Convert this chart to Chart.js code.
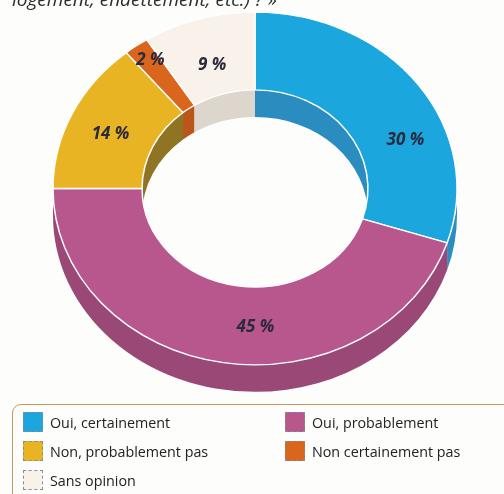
<!doctype html>
<html>
<head>
  <meta charset="utf-8" />
  <title>Donut - sondage</title>
  <script src="https://cdn.jsdelivr.net/npm/chart.js"></script>
  <style>
    body { margin: 0; width: 504px; height: 494px; overflow: hidden; background: #fdfdfc; position: relative;
           font-family: "Open Sans", "Noto Sans", sans-serif; }
    #chartBox { position: absolute; left: 0; top: 0; width: 504px; height: 494px; }
    #title { position: absolute; left: 12px; top: -14px; font-style: italic; font-size: 19px; color: #2d2d2d; white-space: nowrap; }
    #legend { position: absolute; left: 12px; top: 404px; width: 500px; height: 110px; box-sizing: border-box;
              border: 1.5px solid #c8965e; border-radius: 9px; padding: 6px 0 0 10px;
              display: grid; grid-template-columns: 262px auto; grid-auto-rows: 29px; }
    .item { display: flex; align-items: center; font-size: 14.3px; color: #222; height: 22px; }
    .sw { width: 20px; height: 20px; box-sizing: border-box; border: 1px dashed #8b8b8b; margin-right: 7px; }
  </style>
</head>
<body>
  <div id="chartBox"><canvas id="donut"></canvas></div>
  <div id="title">logement, endettement, etc.) ? »</div>
  <div id="legend"></div>

<script>
  var labels = ['Oui, certainement', 'Oui, probablement', 'Non, probablement pas', 'Non certainement pas', 'Sans opinion'];
  var values = [30, 45, 14, 2, 9];
  var colors = ['#1ba6de', '#b8568e', '#e8b423', '#d9661c', '#f8f2ea'];
  var sideColors = ['#2b8cc0', '#9a4876', '#8f7423', '#b9561a', '#dcd6cd']; //faces de côté (3D)
  var legendOrder = [0, 1, 2, 3, 4];
  var labelNudge = [[23, 32], [25, 3], [-2, 4], [-12, -17], [1, 9]]; //décalage des étiquettes

  var CX = 255, CY = 188.5, K = 0.873, DEPTH = 27; //ellipse du dessus + épaisseur

  function band(ctx, r, a1, a2) {
    ctx.beginPath();
    ctx.ellipse(CX, CY, r, r * K, 0, a1, a2);
    ctx.ellipse(CX, CY + DEPTH, r, r * K, 0, a2, a1, true);
    ctx.closePath();
    ctx.fill();
  }

  var tilt = {
    id: 'tilt',
    beforeDatasetsDraw(chart) {
      const ctx = chart.ctx;
      const arcs = chart.getDatasetMeta(0).data;
      arcs.forEach((arc, i) => {
        const p = arc.getProps(['startAngle', 'endAngle', 'outerRadius', 'innerRadius'], true);
        ctx.fillStyle = sideColors[i];
        // paroi extérieure : moitié basse
        [[0, Math.PI], [2 * Math.PI, 3 * Math.PI]].forEach(([lo, hi]) => {
          const a1 = Math.max(p.startAngle, lo), a2 = Math.min(p.endAngle, hi);
          if (a2 > a1) band(ctx, p.outerRadius, a1, a2);
        });
        // paroi intérieure : moitié haute du trou
        [[-Math.PI, 0], [Math.PI, 2 * Math.PI]].forEach(([lo, hi]) => {
          const a1 = Math.max(p.startAngle, lo), a2 = Math.min(p.endAngle, hi);
          if (a2 > a1) band(ctx, p.innerRadius, a1, a2);
        });
      });
      const a0 = arcs[0];
      ctx.save();
      ctx.translate(CX, CY);
      ctx.scale(1, K);
      ctx.translate(-a0.x, -a0.y);
    },
    afterDatasetsDraw(chart) {
      const ctx = chart.ctx;
      ctx.restore();
      const arcs = chart.getDatasetMeta(0).data;
      ctx.save();
      ctx.font = 'bold italic 17px "Open Sans", "Noto Sans", sans-serif';
      ctx.fillStyle = '#2a2a3c';
      ctx.textAlign = 'center';
      ctx.textBaseline = 'middle';
      arcs.forEach((arc, i) => {
        const t = arc.tooltipPosition(true);
        const x = CX + (t.x - arc.x) + labelNudge[i][0];
        const y = CY + (t.y - arc.y) * K + labelNudge[i][1];
        ctx.fillText(values[i] + ' %', x, y);
      });
      ctx.restore();
    }
  };

  var chart = new Chart(document.getElementById('donut').getContext('2d'), {
    type: 'doughnut',
    data: {
      labels: labels,
      datasets: [{
        data: values,
        backgroundColor: colors,
        borderColor: '#ffffff',
        borderWidth: 1.5,
        radius: 202,
        clip: false
      }]
    },
    options: {
      responsive: true,
      maintainAspectRatio: false,
      animation: false,
      events: [],
      cutout: '55.9%',
      layout: { padding: 0 },
      plugins: { legend: { display: false }, tooltip: { enabled: false } }
    },
    plugins: [tilt]
  });

  // légende HTML construite depuis les mêmes tableaux
  var lg = document.getElementById('legend');
  legendOrder.forEach(i => {
    const d = document.createElement('div');
    d.className = 'item';
    d.innerHTML = '<span class="sw" style="background:' + colors[i] + '"></span>' + labels[i];
    lg.appendChild(d);
  });
</script>
</body>
</html>
